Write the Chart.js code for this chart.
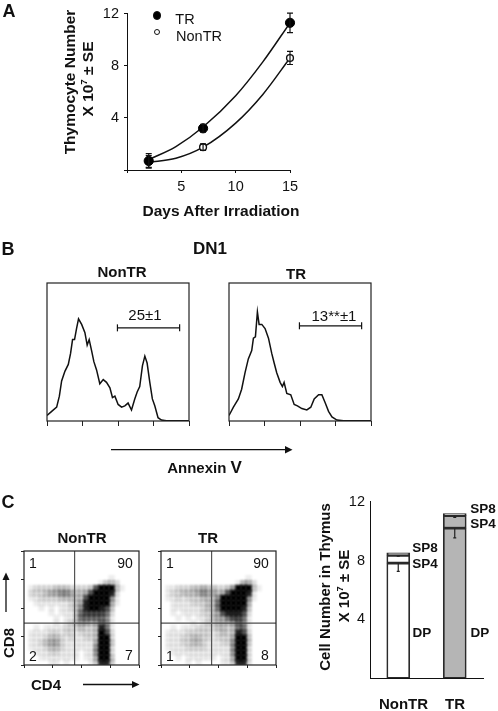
<!DOCTYPE html>
<html>
<head>
<meta charset="utf-8">
<title>Thymocyte figure</title>
<script src="https://cdn.jsdelivr.net/npm/chart.js@4"></script>
<style>
  html, body { margin: 0; padding: 0; background: #fff; }
  #page { position: relative; width: 498px; height: 711px; overflow: hidden; font-family: "Liberation Sans", Arial, sans-serif; color: #111; }
  #page canvas { position: absolute; }
  #arrows { position: absolute; left: 0; top: 0; }
  .lbl { position: absolute; white-space: nowrap; line-height: 1; }
  .lbl sup { font-size: 0.62em; line-height: 0; }
</style>
</head>
<body>
<div id="page">
  <canvas id="growthChart"></canvas>
  <canvas id="histNonTR"></canvas>
  <canvas id="histTR"></canvas>
  <canvas id="dotNonTR"></canvas>
  <canvas id="dotTR"></canvas>
  <canvas id="subsetChart"></canvas>
  <svg id="arrows" width="498" height="711">
    <line x1="111" y1="449.7" x2="286" y1="449.7" y2="449.7" stroke="#111" stroke-width="1.3"/>
    <polygon points="285,446 292.5,449.7 285,453.4" fill="#111"/>
    <line x1="83" y1="684.5" x2="133" y2="684.5" stroke="#111" stroke-width="1.3"/>
    <polygon points="132,681 139.5,684.5 132,688" fill="#111"/>
    <line x1="6" y1="612" x2="6" y2="579" stroke="#111" stroke-width="1.3"/>
    <polygon points="2.5,580 6,572.5 9.5,580" fill="#111"/>
  </svg>
</div>
<script>
// Panel A
const days = [2, 7, 15];
const trCells = [0.7, 3.2, 11.3];
const trErr = [0.55, 0.3, 0.75];
const nonTrCells = [0.65, 1.75, 8.6];
const nonTrErr = [0.45, 0.25, 0.5];
const curveDays = [2, 4.5, 7, 10, 12.5, 15];
const trCurve = [0.8, 1.8, 3.3, 5.7, 8.3, 11.3];
const nonTrCurve = [0.6, 0.9, 1.75, 3.6, 5.8, 8.6];

// Panel B, annexin V histograms (channel, count)
const histNonTRx = [0, 33, 68, 87, 103, 126, 150, 166, 180, 194, 208, 222, 244, 267, 283, 297, 314, 330, 349, 372, 396, 419, 443, 461, 478, 501, 525, 548, 571, 595, 618, 635, 653, 672, 689, 705, 724, 742, 759, 782, 806, 841, 1000];
const histNonTRy = [4, 7, 10, 18, 29, 36, 41, 49, 59, 59, 67, 74, 70, 64, 55, 59, 51, 43, 37, 27, 30, 28, 24, 17, 18, 12, 10, 11, 13, 8, 16, 21, 25, 40, 47, 42, 28, 16, 11, 2.4, 0.7, 0.2, 0.2];
const histTRx = [0, 31, 66, 89, 113, 136, 160, 172, 186, 200, 212, 231, 254, 278, 301, 318, 336, 360, 376, 388, 407, 435, 459, 482, 513, 548, 576, 600, 631, 654, 678, 701, 725, 760, 807, 1000];
const histTRy = [4, 10, 16, 23, 35, 45, 51, 60, 61, 79, 70, 70, 67, 60, 49, 42, 35, 28, 25, 28, 20, 19, 12, 11, 9, 8, 10, 16, 19, 19, 13, 7, 3, 0.7, 0.2, 0.2];
const gateX = [496, 934];
const gateNonTRy = 67.5;
const gateTRy = 69;

// Panel C, CD4/CD8 density, top row first, 0 = empty, 9 = solid
const densityNonTR = [
  "00000000000000000000000",
  "00000000000000000000000",
  "00000000000000000000000",
  "00000000000000000000000",
  "00000000000000000000000",
  "00000000000000000100000",
  "00000000000000013320000",
  "01222233322223799931000",
  "02223445543347999820000",
  "01122223333379999510000",
  "00111111123489999410000",
  "00010101123589987300000",
  "00000101113677776200000",
  "00000010113666665100000",
  "00000010123443465100000",
  "00101111222322386100000",
  "01111221221222397200000",
  "01112332121122399200000",
  "01123442111111499300000",
  "01112332111111599200000",
  "00111221111011599200000",
  "00011111111011499300000",
  "00000110100001388300000"
];
const densityTR = [
  "00000000000000000000000",
  "00000000000000000000000",
  "00000000000000000000000",
  "00000000000000000000000",
  "00000000000000000000000",
  "00000000000000000100000",
  "00000000000000014420000",
  "01122233433223599931000",
  "01223334544347999810000",
  "01121222333599999510000",
  "00111122233699999400000",
  "00111111233699998300000",
  "00101111223478887200000",
  "00010101123446776100000",
  "00000010122333465100000",
  "00101112222332366100000",
  "01111222221232387200000",
  "01112233221222499300000",
  "01112233211122599300000",
  "01111222211111599200000",
  "00111111111111599200000",
  "00010111111011499200000",
  "00000101000011388200000"
];
const gridSize = 23;
const gateCD4 = 1.76;
const gateCD8 = 1.47;
const levelAlpha = [0, 0.07, 0.13, 0.2, 0.28, 0.38, 0.5, 0.65, 0.85, 1];

// Panel C, thymus subsets
const subsetGroups = ["NonTR", "TR"];
const dpVals = [7.83, 10.2];
const sp4Vals = [0.53, 0.85];
const sp8Vals = [0.17, 0.15];
const dpErr = [0.57, 0.66];
const sp4Err = [0.06, 0.12];

Chart.defaults.font.family = '"Liberation Sans", Arial, sans-serif';
Chart.defaults.color = "#111";
Chart.defaults.animation = false;

function label(html, x, y, size, bold, rotate) {
  const el = document.createElement("div");
  el.className = "lbl";
  el.innerHTML = html;
  el.style.left = x + "px";
  el.style.top = y + "px";
  el.style.fontSize = size + "px";
  el.style.fontWeight = bold ? "bold" : "normal";
  el.style.transform = "translate(-50%, -50%)" + (rotate ? " rotate(-90deg)" : "");
  document.getElementById("page").appendChild(el);
}

// puts a canvas so that its plot area lands on the given box, margins are room for ticks
function placeCanvas(id, box, m) {
  const canvas = document.getElementById(id);
  canvas.width = box.right - box.left + m.left + m.right;
  canvas.height = box.bottom - box.top + m.top + m.bottom;
  canvas.style.left = (box.left - m.left) + "px";
  canvas.style.top = (box.top - m.top) + "px";
  return canvas;
}

function baseOptions(m) {
  return {
    responsive: false,
    layout: { autoPadding: false, padding: { top: m.top, right: m.right, left: 0, bottom: 0 } },
    plugins: { legend: { display: false }, tooltip: { enabled: false } }
  };
}

const framePlugin = {
  id: "frame",
  afterDatasetsDraw(chart) {
    const { ctx, chartArea: a } = chart;
    ctx.save();
    ctx.strokeStyle = "#222";
    ctx.lineWidth = 1.2;
    ctx.strokeRect(a.left, a.top, a.right - a.left, a.bottom - a.top);
    ctx.restore();
  }
};

// softens the density cells so they read like the dot cloud, not like tiles
const softCellsPlugin = {
  id: "softCells",
  beforeDatasetDraw(chart, args) {
    if (chart.data.datasets[args.index].label === "cells") chart.ctx.filter = "blur(1px)";
  },
  afterDatasetDraw(chart) {
    chart.ctx.filter = "none";
  }
};

// draws error bars; items are {x, from, to}
function whiskers(items, cap, color) {
  return {
    id: "whiskers",
    afterDatasetsDraw(chart) {
      const { ctx, scales } = chart;
      ctx.save();
      ctx.strokeStyle = color;
      ctx.lineWidth = 1.2;
      items.forEach(item => {
        const px = scales.x.getPixelForValue(item.x);
        ctx.beginPath();
        ctx.moveTo(px, scales.y.getPixelForValue(item.from));
        ctx.lineTo(px, scales.y.getPixelForValue(item.to));
        ctx.moveTo(px - cap, scales.y.getPixelForValue(item.to));
        ctx.lineTo(px + cap, scales.y.getPixelForValue(item.to));
        if (item.both) {
          ctx.moveTo(px - cap, scales.y.getPixelForValue(item.from));
          ctx.lineTo(px + cap, scales.y.getPixelForValue(item.from));
        }
        ctx.stroke();
      });
      ctx.restore();
    }
  };
}

function hiddenY(min, max, width) {
  return {
    min, max,
    border: { display: false },
    grid: { display: false },
    ticks: { display: false },
    afterFit: s => { s.width = width; }
  };
}

function drawGrowth() {
  const m = { left: 47, right: 20, top: 8, bottom: 30 };
  const canvas = placeCanvas("growthChart", { left: 127, right: 290, top: 8, bottom: 170 }, m);
  const toXY = (xs, ys) => xs.map((x, i) => ({ x, y: ys[i] }));
  const errItems = [];
  days.forEach((d, i) => {
    errItems.push({ x: d, from: trCells[i] - trErr[i], to: trCells[i] + trErr[i], both: true });
    errItems.push({ x: d, from: nonTrCells[i] - nonTrErr[i], to: nonTrCells[i] + nonTrErr[i], both: true });
  });
  const options = baseOptions(m);
  options.scales = {
    x: {
      type: "linear", min: 0, max: 15,
      border: { color: "#111" },
      grid: { drawOnChartArea: false, tickLength: 3, tickColor: "#111" },
      ticks: { stepSize: 5, padding: 5, maxRotation: 0, font: { size: 14.5 }, callback: v => (v ? v : "") },
      afterFit: s => { s.height = m.bottom; }
    },
    y: {
      min: 0, max: 12,
      border: { color: "#111" },
      grid: { drawOnChartArea: false, tickLength: 3, tickColor: "#111" },
      ticks: { stepSize: 4, padding: 5, font: { size: 14.5 }, callback: v => (v ? v : "") },
      afterFit: s => { s.width = m.left; }
    }
  };
  new Chart(canvas, {
    type: "scatter",
    data: {
      datasets: [
        { label: "TR", data: toXY(days, trCells), pointRadius: 4.6, pointBackgroundColor: "#000", pointBorderColor: "#000", clip: false },
        { label: "NonTR", data: toXY(days, nonTrCells), pointRadius: 3.4, pointBackgroundColor: "#fff", pointBorderColor: "#111", pointBorderWidth: 1.4, clip: false },
        { label: "TR fit", data: toXY(curveDays, trCurve), showLine: true, pointRadius: 0, borderColor: "#111", borderWidth: 1.5, cubicInterpolationMode: "monotone" },
        { label: "NonTR fit", data: toXY(curveDays, nonTrCurve), showLine: true, pointRadius: 0, borderColor: "#111", borderWidth: 1.5, cubicInterpolationMode: "monotone" }
      ]
    },
    options,
    plugins: [whiskers(errItems, 3, "#111")]
  });
}

function drawHistogram(id, left, xs, ys, gateY) {
  const m = { left: 2, right: 2, top: 2, bottom: 7 };
  const canvas = placeCanvas(id, { left, right: left + 142, top: 283, bottom: 421 }, m);
  const options = baseOptions(m);
  options.scales = {
    x: {
      type: "linear", min: 0, max: 1000,
      border: { display: false },
      grid: { drawOnChartArea: false, tickLength: 5, tickColor: "#222" },
      ticks: { stepSize: 250, display: false },
      afterFit: s => { s.height = m.bottom; }
    },
    y: hiddenY(0, 100, m.left)
  };
  new Chart(canvas, {
    type: "scatter",
    data: {
      datasets: [
        { label: "Annexin V", data: xs.map((x, i) => ({ x, y: ys[i] })), showLine: true, pointRadius: 0, borderColor: "#111", borderWidth: 1.5 },
        {
          label: "gate",
          data: gateX.map(x => ({ x, y: gateY })),
          showLine: true, borderColor: "#111", borderWidth: 1.2,
          pointStyle: "line", rotation: 90, pointRadius: 3.5, pointBorderColor: "#111", pointBorderWidth: 1.2
        }
      ]
    },
    options,
    plugins: [framePlugin]
  });
}

function drawDots(id, left, density) {
  const m = { left: 4, right: 2, top: 2, bottom: 5 };
  const canvas = placeCanvas(id, { left, right: left + 115, top: 551, bottom: 665 }, m);
  const cells = [];
  const shades = [];
  density.forEach((row, r) => {
    row.split("").forEach((level, c) => {
      if (level === "0") return;
      cells.push({ x: (c + 0.5) / gridSize * 4, y: (gridSize - r - 0.5) / gridSize * 4 });
      shades.push(`rgba(0,0,0,${levelAlpha[Number(level)]})`);
    });
  });
  const options = baseOptions(m);
  options.scales = {
    x: {
      type: "linear", min: 0, max: 4,
      border: { display: false },
      grid: { drawOnChartArea: false, tickLength: 3, tickColor: "#222" },
      ticks: { stepSize: 1, display: false },
      afterFit: s => { s.height = m.bottom; }
    },
    y: {
      min: 0, max: 4,
      border: { display: false },
      grid: { drawOnChartArea: false, tickLength: 3, tickColor: "#222" },
      ticks: { stepSize: 1, display: false },
      afterFit: s => { s.width = m.left; }
    }
  };
  new Chart(canvas, {
    type: "scatter",
    data: {
      datasets: [
        { label: "CD4 gate", data: [{ x: gateCD4, y: 0 }, { x: gateCD4, y: 4 }], showLine: true, pointRadius: 0, borderColor: "#555", borderWidth: 1.2 },
        { label: "CD8 gate", data: [{ x: 0, y: gateCD8 }, { x: 4, y: gateCD8 }], showLine: true, pointRadius: 0, borderColor: "#222", borderWidth: 1 },
        { label: "cells", data: cells, pointStyle: "rect", pointRadius: 4.6, pointBorderWidth: 0, pointBackgroundColor: shades }
      ]
    },
    options,
    plugins: [softCellsPlugin, framePlugin]
  });
}

function drawSubsets() {
  const m = { left: 30, right: 4, top: 10, bottom: 4 };
  const canvas = placeCanvas("subsetChart", { left: 370, right: 483, top: 498, bottom: 688 }, m);
  const errItems = [];
  subsetGroups.forEach((g, i) => {
    errItems.push({ x: i, from: dpVals[i], to: dpVals[i] - dpErr[i] });
    errItems.push({ x: i, from: dpVals[i] + sp4Vals[i], to: dpVals[i] + sp4Vals[i] - sp4Err[i] });
  });
  const fills = ["#fff", "#b5b5b5"];
  const bar = (name, data) => ({
    label: name, data, backgroundColor: fills, borderColor: "#2a2a2a", borderWidth: 1.7,
    borderSkipped: false, barThickness: 23, stack: "thymus"
  });
  const options = baseOptions(m);
  options.scales = {
    x: {
      stacked: true,
      border: { color: "#111" },
      grid: { display: false },
      ticks: { display: false },
      afterFit: s => { s.height = m.bottom; }
    },
    y: {
      stacked: true, min: 0, max: 12,
      border: { color: "#111" },
      grid: { display: false, tickLength: 0, drawTicks: false },
      ticks: { stepSize: 4, padding: 5, font: { size: 14.5 }, callback: v => (v ? v : "") },
      afterFit: s => { s.width = m.left; }
    }
  };
  new Chart(canvas, {
    type: "bar",
    data: {
      labels: subsetGroups,
      datasets: [bar("DP", dpVals), bar("SP4", sp4Vals), bar("SP8", sp8Vals)]
    },
    options,
    plugins: [whiskers(errItems, 1.5, "#222")]
  });
}

drawGrowth();
drawHistogram("histNonTR", 47, histNonTRx, histNonTRy, gateNonTRy);
drawHistogram("histTR", 229, histTRx, histTRy, gateTRy);
drawDots("dotNonTR", 24, densityNonTR);
drawDots("dotTR", 161, densityTR);
drawSubsets();

// Panel letters
label("A", 9, 11, 18, true);
label("B", 8, 249, 18, true);
label("C", 8, 502, 18, true);

// Panel A text
label("Thymocyte Number", 70, 82, 15.5, true, true);
label("X 10<sup>7</sup> ± SE", 88, 79, 15.5, true, true);
label("Days After Irradiation", 221, 211, 15.5, true);
label("TR", 185, 19, 14.5);
label("NonTR", 199, 36, 14.5);

// Panel A legend markers
const page = document.getElementById("page");
[[157, 15.5, 4.3, "#000"], [157, 32, 3.2, "#fff"]].forEach(([x, y, r, fill]) => {
  const dot = document.createElement("div");
  dot.style.cssText = `position:absolute;box-sizing:border-box;left:${x - r}px;top:${y - r}px;width:${2 * r}px;height:${2 * r}px;border-radius:50%;background:${fill};border:1.3px solid #111;`;
  page.appendChild(dot);
});

// Panel B text
label("DN1", 210, 248, 17, true);
label("NonTR", 122, 271, 15, true);
label("TR", 296, 273, 15, true);
label("25±1", 145, 314, 15);
label("13**±1", 334, 315, 15);
label("Annexin <span style=\"font-size:17px\">V</span>", 204.5, 467, 15, true);

// Panel C text
label("NonTR", 82, 537, 15, true);
label("TR", 208, 537, 15, true);
label("1", 33, 563, 14);
label("90", 125, 563, 14);
label("2", 33, 656, 14);
label("7", 129, 655, 14);
label("1", 170, 563, 14);
label("90", 261, 563, 14);
label("1", 170, 656, 14);
label("8", 265, 655, 14);
label("CD8", 8, 643, 15, true, true);
label("CD4", 46, 684, 15, true);

// Panel C bar text
label("Cell Number in Thymus", 324, 587, 15, true, true);
label("X 10<sup>7</sup> ± SE", 343, 586, 15, true, true);
label("SP8", 425, 548, 13.5, true);
label("SP4", 425, 564, 13.5, true);
label("DP", 422, 633, 13.5, true);
label("SP8", 483, 509, 13.5, true);
label("SP4", 483, 524, 13.5, true);
label("DP", 480, 633, 13.5, true);
label("NonTR", 403.5, 703, 15, true);
label("TR", 455, 703, 15, true);
</script>
</body>
</html>
